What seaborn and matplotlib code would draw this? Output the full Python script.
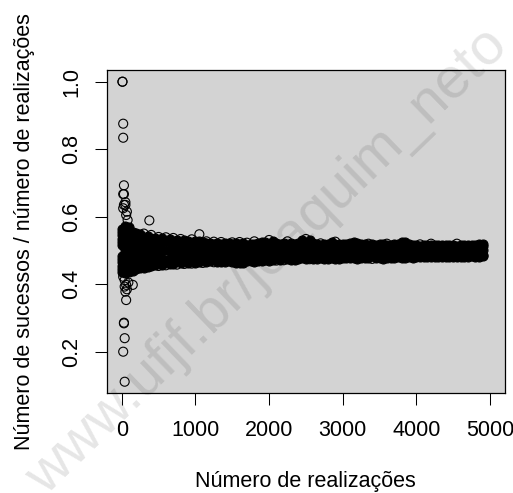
import matplotlib
matplotlib.use("Agg")
import matplotlib.pyplot as plt
import pandas as pd
import seaborn as sns

plt.rcParams["font.family"] = ["Liberation Sans", "DejaVu Sans"]

band_x = [50,100,150,200,250,300,350,400,450,500,
 550,600,650,700,750,800,850,900,950,1000,
 1050,1100,1150,1200,1250,1300,1350,1400,1450,1500,
 1550,1600,1650,1700,1750,1800,1850,1900,1950,2000,
 2050,2100,2150,2200,2250,2300,2350,2400,2450,2500,
 2550,2600,2650,2700,2750,2800,2850,2900,2950,3000,
 3050,3100,3150,3200,3250,3300,3350,3400,3450,3500,
 3550,3600,3650,3700,3750,3800,3850,3900,3950,4000,
 4050,4100,4150,4200,4250,4300,4350,4400,4450,4500,
 4550,4600,4650,4700,4750,4800,4850,4900]
upper_edge = [.572,.568,.556,.552,.548,.550,.544,.546,.538,.540,
 .536,.539,.533,.537,.530,.534,.531,.528,.533,.529,
 .528,.524,.527,.523,.526,.522,.525,.523,.521,.524,
 .522,.525,.521,.523,.520,.527,.522,.524,.525,.531,
 .529,.522,.520,.523,.527,.521,.519,.522,.530,.534,
 .532,.522,.519,.521,.518,.520,.524,.526,.520,.518,
 .519,.521,.524,.523,.519,.518,.520,.518,.517,.519,
 .518,.520,.517,.519,.518,.524,.525,.518,.517,.516,
 .518,.516,.517,.520,.517,.516,.517,.515,.516,.517,
 .520,.517,.515,.516,.517,.516,.518,.520]
upper_mid = [.540,.538,.535,.533,.532,.532,.530,.530,.527,.528,
 .525,.527,.524,.526,.523,.524,.523,.521,.523,.521,
 .521,.519,.521,.518,.520,.518,.519,.518,.517,.518,
 .517,.518,.516,.517,.516,.518,.516,.517,.517,.519,
 .518,.516,.515,.516,.517,.515,.515,.516,.518,.519,
 .518,.516,.515,.515,.514,.515,.516,.517,.515,.514,
 .515,.515,.516,.516,.515,.514,.515,.514,.514,.514,
 .514,.515,.514,.514,.514,.516,.517,.514,.514,.513,
 .514,.513,.513,.515,.513,.513,.513,.513,.513,.513,
 .514,.513,.513,.513,.513,.513,.514,.514]
centre = [.500,.498,.501,.499,.500,.502,.498,.500,.499,.501,
 .499,.500,.498,.501,.499,.500,.498,.500,.499,.501,
 .500,.498,.499,.500,.501,.499,.498,.500,.499,.500,
 .498,.499,.500,.501,.499,.500,.498,.499,.501,.500,
 .499,.500,.498,.499,.501,.500,.499,.498,.500,.501,
 .499,.500,.498,.499,.500,.499,.501,.500,.498,.499,
 .500,.499,.501,.500,.499,.498,.500,.499,.498,.499,
 .500,.499,.498,.499,.500,.501,.500,.499,.498,.500,
 .499,.500,.499,.500,.499,.500,.499,.498,.499,.500,
 .499,.500,.499,.500,.499,.500,.500,.500]
lower_mid = [.461,.463,.465,.467,.469,.470,.471,.472,.473,.472,
 .474,.473,.475,.476,.474,.476,.475,.477,.476,.477,
 .478,.477,.478,.479,.478,.479,.478,.478,.479,.478,
 .477,.477,.477,.479,.480,.479,.480,.479,.481,.480,
 .481,.480,.481,.481,.482,.481,.482,.483,.484,.483,
 .482,.483,.483,.484,.483,.483,.484,.483,.483,.484,
 .485,.484,.484,.483,.484,.484,.484,.483,.484,.484,
 .483,.484,.484,.485,.485,.484,.485,.486,.485,.485,
 .486,.485,.486,.486,.485,.486,.486,.485,.486,.486,
 .485,.486,.486,.486,.487,.486,.486,.487]
lower_edge = [.432,.436,.440,.444,.447,.449,.451,.453,.456,.454,
 .458,.456,.459,.461,.458,.462,.460,.463,.461,.464,
 .465,.463,.466,.468,.465,.467,.466,.465,.468,.466,
 .463,.464,.463,.468,.469,.467,.470,.468,.471,.470,
 .472,.470,.473,.471,.474,.472,.473,.475,.477,.476,
 .474,.476,.475,.477,.476,.475,.477,.475,.476,.478,
 .479,.477,.478,.476,.477,.478,.477,.475,.477,.478,
 .476,.477,.478,.479,.480,.478,.479,.481,.479,.480,
 .481,.480,.482,.481,.480,.482,.481,.480,.482,.481,
 .480,.482,.481,.482,.483,.482,.481,.483]

# individually legible points at the start of the run and along the rim
sparse_x = [10,10,20,20,30,20,30,50,20,30,50,70,60,80,375,1054,
            20,40,40,60,90,150,50,70,60,30,30,40,20,40]
sparse_y = [1.0,1.0,.8756,.834,.693,.667,.667,.635,.625,.635,.643,.615,.605,.590,.589,.548,
            .422,.412,.393,.398,.405,.398,.378,.385,.353,.286,.284,.240,.200,.111]
# dense blob just after the start: one column per x, filled between its limits
early_x = [10,25,45,70,100,135,175,220,265,310,360,420,480]
early_hi = [.565,.565,.560,.555,.550,.545,.540,.535,.535,.530,.530,.525,.525]
early_lo = [.435,.435,.440,.445,.450,.455,.455,.460,.460,.465,.465,.470,.470]
early_y = [.435,.445,.455,.465,.475,.485,.515,.525,.535,.545,.555,.565]

FIG_W, FIG_H = 513, 493
L, R, T, B = 106.7, 505.0, 70.0, 393.3

fig = plt.figure(figsize=(FIG_W / 100, FIG_H / 100), dpi=100)
ax = fig.add_axes([L / FIG_W, 1 - B / FIG_H, (R - L) / FIG_W, (B - T) / FIG_H])
ax.set_facecolor("#d3d3d3")


def split_rim(row, sign):
    """Local peaks of a rim stay open circles; the rest merges into the black mass."""
    opened, merged = [], []
    for i, (x, y) in enumerate(zip(band_x, row)):
        left = row[max(i - 1, 0)]
        right = row[min(i + 1, len(row) - 1)]
        peak = sign * (y - left) >= .002 and sign * (y - right) >= .002
        (opened if peak else merged).append({"x": x, "y": y})
    return opened, merged


up_open, up_solid = split_rim(upper_edge, 1)
lo_open, lo_solid = split_rim(lower_edge, -1)

rim = pd.concat([pd.DataFrame(up_open), pd.DataFrame(lo_open),
                 pd.DataFrame({"x": sparse_x, "y": sparse_y})], ignore_index=True)
early = pd.DataFrame([{"x": a, "y": b} for a, hi, lo in zip(early_x, early_hi, early_lo)
                      for b in early_y if lo <= b <= hi])
core = pd.concat([pd.DataFrame({"x": band_x, "y": row}) for row in (upper_mid, centre, lower_mid)]
                 + [early, pd.DataFrame(up_solid), pd.DataFrame(lo_solid)], ignore_index=True)

sns.scatterplot(data=rim, x="x", y="y", ax=ax, marker="o", s=42,
                facecolor="none", edgecolor="black", linewidth=0.8, zorder=3, legend=False)
sns.scatterplot(data=core, x="x", y="y", ax=ax, marker="o", s=42,
                facecolor="black", edgecolor="black", linewidth=0.8, zorder=3, legend=False)

ax.set_xlim(-204, 5204)
ax.set_ylim(0.0767, 1.0347)
ax.set_xticks([0, 1000, 2000, 3000, 4000, 5000])
ax.set_yticks([0.2, 0.4, 0.6, 0.8, 1.0])
ax.set_yticklabels(["0.2", "0.4", "0.6", "0.8", "1.0"], rotation=90, va="center")
ax.tick_params(axis="both", length=8.5, width=0.75, labelsize=15.5, color="black")
ax.tick_params(axis="x", pad=11)
ax.tick_params(axis="y", pad=9)
for s in ax.spines.values():
    s.set_linewidth(0.9)
ax.set_xlabel("Número de realizações", fontsize=15.5, labelpad=21)
ax.set_ylabel("Número de sucessos / número de realizações", fontsize=15.5, labelpad=19)

ax.text(46 / FIG_W, 1 - 496 / FIG_H, "www.ufjf.br/joaquim_neto", transform=fig.transFigure,
        rotation=44, rotation_mode="anchor", ha="left", va="baseline",
        fontsize=41.6, color="black", alpha=0.1, zorder=4, clip_on=False)

fig.savefig("out.png", dpi=100)
